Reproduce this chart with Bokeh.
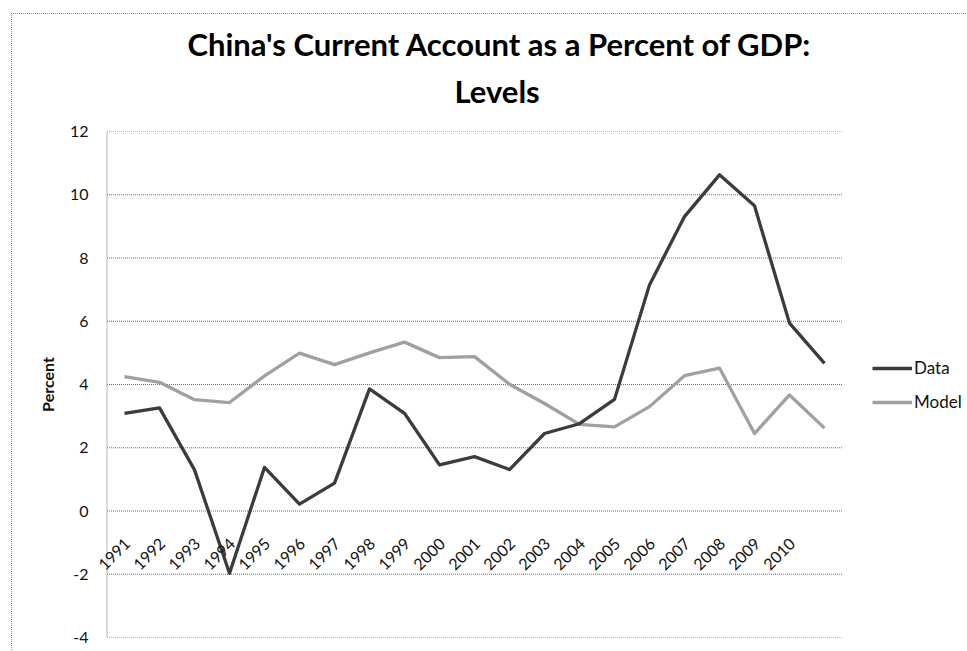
from bokeh.plotting import figure
from bokeh.models import (Range1d, FixedTicker, Legend, LegendItem, Title,
                          ColumnDataSource, PrintfTickFormatter)
from bokeh.core.properties import value
from bokeh.embed import file_html
from bokeh.resources import INLINE
import math

# ---- data ----
year_labels = ["1991", "1992", "1993", "1994", "1995", "1996", "1997", "1998",
               "1999", "2000", "2001", "2002", "2003", "2004", "2005", "2006",
               "2007", "2008", "2009", "2010"]
data_vals = [3.09, 3.26, 1.30, -1.97, 1.38, 0.22, 0.88, 3.86, 3.09, 1.46, 1.72,
             1.31, 2.45, 2.76, 3.53, 7.15, 9.31, 10.63, 9.65, 5.94, 4.67]
model_vals = [4.25, 4.07, 3.52, 3.43, 4.27, 4.99, 4.63, 5.00, 5.34, 4.85, 4.88,
              4.01, 3.40, 2.74, 2.66, 3.30, 4.28, 4.52, 2.45, 3.67, 2.62]
y_ticks = [-4, -2, 0, 2, 4, 6, 8, 10, 12]
title_line1 = "China's Current Account as a Percent of GDP:"
title_line2 = "Levels"

FONT = "Lato"
n = len(data_vals)
idx = list(range(n))

# frame spans x pixels 97..967 at 35 px per category (category 0 at x=124)
X0 = -27 / 35.0
X1 = X0 + 870 / 35.0

# dotted chart-area border (top and left edges), drawn behind the canvas
border_css = {
    "background-color": "white",
    "background-image": ("repeating-linear-gradient(to right, #8a8a8a 0px, #8a8a8a 1px, "
                         "rgba(0,0,0,0) 1px, rgba(0,0,0,0) 2px), "
                         "repeating-linear-gradient(to bottom, #8a8a8a 0px, #8a8a8a 1px, "
                         "rgba(0,0,0,0) 1px, rgba(0,0,0,0) 2px)"),
    "background-size": "956px 1px, 1px 638px",
    "background-position": "11px 13px, 11px 13px",
    "background-repeat": "no-repeat, no-repeat",
}

p = figure(width=967, height=651, output_backend="svg", toolbar_location=None,
           x_axis_location=None, x_range=Range1d(X0, X1),
           y_range=Range1d(-4, 12), min_border_left=97, min_border_right=0,
           min_border_top=131, min_border_bottom=14, title=None,
           styles=border_css)
p.outline_line_color = None
p.background_fill_color = "white"
p.border_fill_alpha = 0

# y axis: labels from the real axis, axis line drawn at the category edge
p.yaxis.ticker = FixedTicker(ticks=y_ticks)
p.yaxis.formatter = PrintfTickFormatter(format="%d")
p.yaxis.major_tick_line_color = None
p.yaxis.minor_tick_line_color = None
p.yaxis.axis_line_color = None
p.yaxis.major_label_standoff = 3
p.yaxis.major_label_text_font = FONT
p.yaxis.major_label_text_font_size = "16px"
p.yaxis.major_label_text_color = "#111111"
p.yaxis.axis_label = "Percent"
p.yaxis.axis_label_text_font = FONT
p.yaxis.axis_label_text_font_style = "bold"
p.yaxis.axis_label_text_font_size = "16px"
p.yaxis.axis_label_text_color = "#111111"
p.yaxis.axis_label_standoff = 10

p.xgrid.visible = False
p.ygrid.visible = False

GRID = "#6e6e6e"
# horizontal gridlines over the category area
p.segment(x0=[-0.5] * len(y_ticks), x1=[n - 0.5] * len(y_ticks),
          y0=y_ticks, y1=y_ticks, line_color=GRID, line_dash="1 1",
          line_width=1)
# vertical value-axis line at the left edge of the category area
p.segment(x0=[-0.5], x1=[-0.5], y0=[min(y_ticks)], y1=[max(y_ticks)],
          line_color=GRID, line_dash="1 1", line_width=1)

src = ColumnDataSource(dict(x=idx, data=data_vals, model=model_vals))
r_model = p.line("x", "model", source=src, line_color="#a0a0a0", line_width=3.3,
                 line_join="round")
r_data = p.line("x", "data", source=src, line_color="#3b3b3b", line_width=3.3,
                line_join="round")

# category labels along the zero line
lab_src = ColumnDataSource(dict(x=list(range(len(year_labels))),
                                y=[0] * len(year_labels), t=year_labels))
p.text("x", "y", text="t", source=lab_src, angle=math.pi / 4,
       text_align="right", text_baseline="middle", x_offset=3, y_offset=30,
       text_font=value(FONT), text_font_size="16px", text_color="#111111")

# title (two lines, stacked above the plot)
t2 = Title(text=title_line2, align="left", offset=357, standoff=41,
           vertical_align="middle",
           text_font=FONT, text_font_style="bold", text_font_size="31px",
           text_color="#000000")
t1 = Title(text=title_line1, align="left", offset=90, standoff=-25,
           text_font=FONT, text_font_style="bold", text_font_size="31px",
           text_color="#000000")
p.add_layout(t2, "above")
p.add_layout(t1, "above")

# legend to the right of the lines
legend = Legend(items=[LegendItem(label="Data", renderers=[r_data]),
                       LegendItem(label="Model", renderers=[r_model])],
                location=(775, 225), orientation="vertical",
                glyph_width=40, glyph_height=20, label_height=20,
                label_standoff=2, spacing=13, padding=0, margin=0,
                border_line_color=None, background_fill_alpha=0,
                label_text_font=FONT, label_text_font_size="17px",
                label_text_color="#111111")
p.add_layout(legend, "center")

open("out.html", "w").write(file_html(p, INLINE))
